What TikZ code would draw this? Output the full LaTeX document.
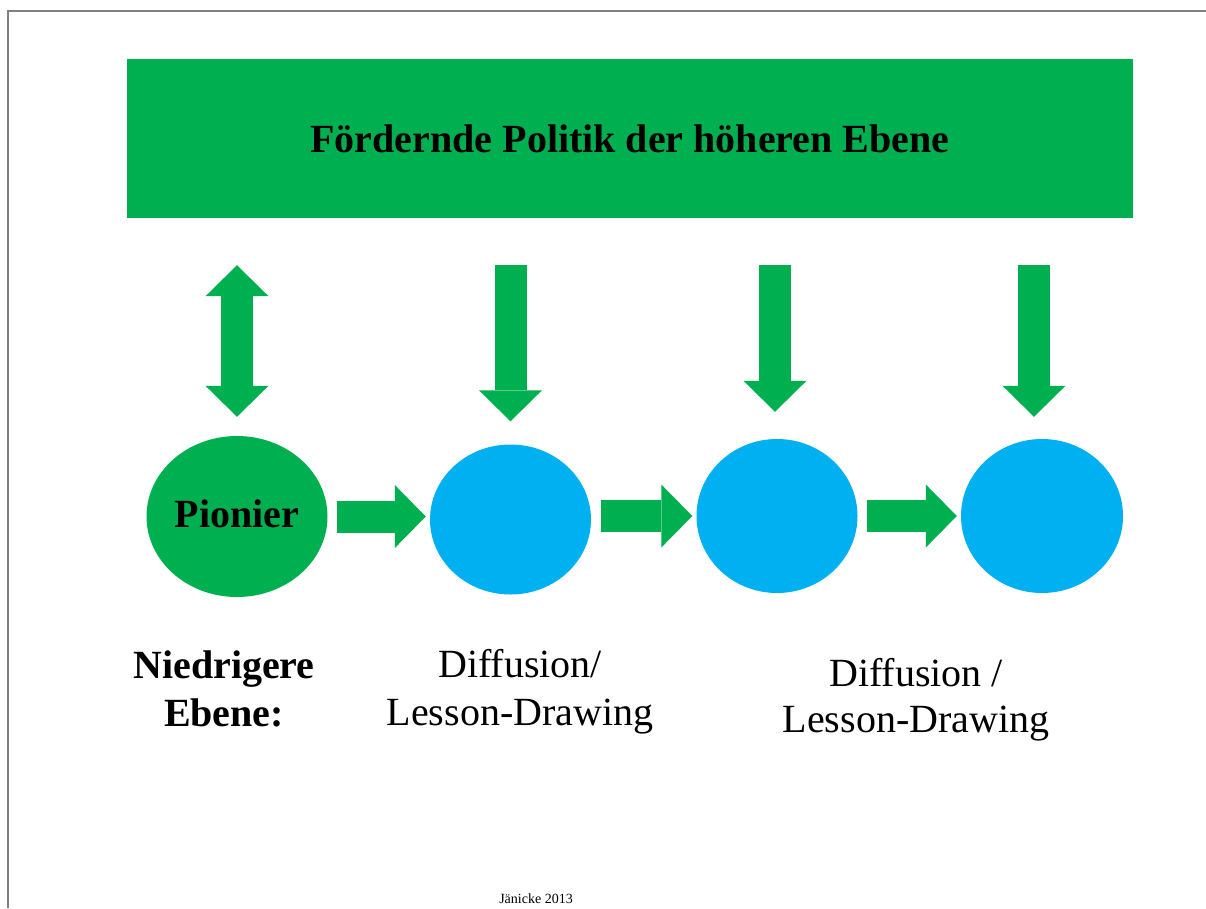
\documentclass[tikz,border=0pt]{standalone}
\usepackage{fontspec}
\setmainfont{Liberation Serif}
\usetikzlibrary{shapes.geometric,arrows.meta}
\definecolor{pgreen}{RGB}{0,176,80}
\definecolor{pblue}{RGB}{0,176,240}

\begin{document}
\begin{tikzpicture}[x=1pt,y=-1pt,
  bighead/.tip={Triangle[length=31pt,width=63pt,line width=0pt]},
  bigarrow/.style={draw=pgreen,line width=32pt,-bighead},
  dot/.style={ellipse,fill=pblue,inner sep=0pt},
  big/.style={font=\fontsize{40}{48}\selectfont,align=center,inner sep=0pt}]
\useasboundingbox (0,0) rectangle (1206,908);
\draw[gray,line width=2pt] (8,908) -- (8,11) -- (1206,11);
\node[fill=pgreen,minimum width=1006pt,minimum height=159pt,inner sep=0pt,font=\bfseries\fontsize{40}{48}\selectfont] (0) at (630,138.5) {Fördernde Politik der höheren Ebene};
\node[ellipse,fill=pgreen,inner sep=0pt,minimum width=181pt,minimum height=161pt,text height=21pt,text depth=0pt,font=\bfseries\fontsize{40}{48}\selectfont] (1) at (237,516.5) {Pionier};
\node[dot,minimum width=161pt,minimum height=150pt] (2) at (510.5,519.5) {};
\node[dot,minimum width=161pt,minimum height=154pt] (3) at (777,516) {};
\node[dot,minimum width=162pt,minimum height=154pt] (4) at (1042,516) {};
\node[big,anchor=north,font=\bfseries\fontsize{40}{48}\selectfont] (5) at (224,650.5) {Niedrigere\\Ebene:};
\node[big,anchor=north] (6) at (520,648.7) {Diffusion/\\Lesson-Drawing};
\node[big,anchor=north,font=\fontsize{40}{46}\selectfont] (7) at (916,657.7) {Diffusion /\\Lesson-Drawing};
\node[anchor=base,inner sep=0pt,font=\fontsize{14}{16}\selectfont] (8) at (536,903) {Jänicke 2013};
\path[draw,bigarrow,bighead-bighead,shorten <=47pt,shorten >=19pt] (0.south -| 1.north) -- (1.north);
\path[draw,bigarrow,shorten <=47pt,shorten >=23pt] (0.south -| 2.north) -- (2.north);
\path[draw,bigarrow,shorten <=47pt,shorten >=27pt] ([xshift=-2pt]0.south -| 3.north) -- ([xshift=-2pt]3.north);
\path[draw,bigarrow,shorten <=47pt,shorten >=22pt] ([xshift=-8pt]0.south -| 4.north) -- ([xshift=-8pt]4.north);
\path[draw,bigarrow,shorten <=9pt,shorten >=4pt] (1.east) -- (1.east -| 2.west);
\path[draw,bigarrow,shorten <=10pt,shorten >=4pt] (2.east |- 3.west) -- (3.west);
\path[draw,bigarrow,shorten <=9pt,shorten >=4pt] (3.east) -- (4.west);
\end{tikzpicture}
\end{document}
